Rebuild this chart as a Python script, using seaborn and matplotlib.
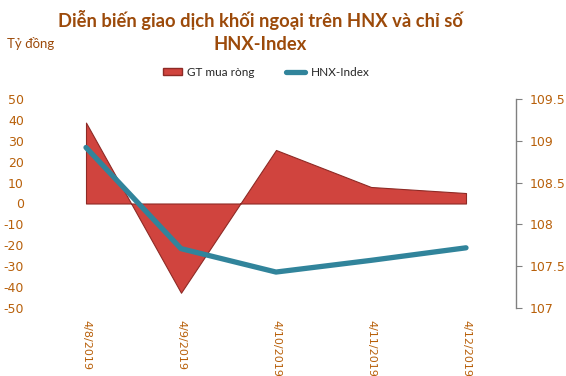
import matplotlib
matplotlib.use("Agg")
import matplotlib.pyplot as plt
import seaborn as sns
import pandas as pd
from matplotlib.patches import Patch
from matplotlib.lines import Line2D

# Du lieu doc tu bieu do
dates = ["4/8/2019", "4/9/2019", "4/10/2019", "4/11/2019", "4/12/2019"]
gt_mua_rong = [38.7, -42.7, 25.6, 7.9, 5.0]
hnx_index = [108.92, 107.71, 107.43, 107.57, 107.72]

title_color = "#9C4A0A"
tick_color = "#B8600A"
red = "#D0443E"
teal = "#31849B"

sns.set_style("white")
plt.rcParams["font.family"] = ["Lato", "DejaVu Sans"]

df = pd.DataFrame({"x": range(len(dates)), "gt": gt_mua_rong, "hnx": hnx_index})

fig = plt.figure(figsize=(5.66, 3.76), dpi=100)
ax = fig.add_axes([35 / 566, 1 - 308 / 376, (516 - 35) / 566, 209 / 376])

# Vung GT mua rong
ax.fill_between(df["x"], 0, df["gt"], color=red, edgecolor="#8E2A25", linewidth=0.8, zorder=2)
ax.set_ylim(-50, 50)
ax.set_yticks(range(-50, 51, 10))
ax.set_yticklabels([str(v) for v in range(-50, 51, 10)], family=["DejaVu Sans"])
ax.set_xlim(-51 / 95, 430 / 95)
ax.set_xticks(df["x"])
ax.set_xticklabels(dates, rotation=270, color=tick_color, fontsize=8, family=["DejaVu Sans"],
                   va="top", ha="center")
ax.tick_params(axis="x", length=0, pad=9)
ax.tick_params(axis="y", length=0, pad=8, labelsize=9, labelcolor=tick_color)
for s in ax.spines.values():
    s.set_visible(False)

# Duong HNX-Index
ax2 = ax.twinx()
sns.lineplot(data=df, x="x", y="hnx", ax=ax2, color=teal, linewidth=3.8, legend=False)
ax2.set_ylim(107, 109.5)
ax2.set_yticks([107, 107.5, 108, 108.5, 109, 109.5])
ax2.set_yticklabels(["107", "107.5", "108", "108.5", "109", "109.5"], family=["DejaVu Sans"])
ax2.set_ylabel("")
ax2.set_xlabel("")
ax.set_xlabel("")
ax2.tick_params(axis="y", length=4, color="#808080", pad=6, labelsize=9, labelcolor=tick_color, right=True)
for k, s in ax2.spines.items():
    s.set_visible(k == "right")
ax2.spines["right"].set_color("#808080")
ax2.spines["right"].set_linewidth(1.0)

fig.text(260 / 566, 1 - 20 / 376, "Diễn biến giao dịch khối ngoại trên HNX và chỉ số",
         ha="center", va="center", fontsize=13.2, fontweight="bold", color=title_color)
fig.text(260 / 566, 1 - 44 / 376, "HNX-Index",
         ha="center", va="center", fontsize=13.2, fontweight="bold", color=title_color)
fig.text(7 / 566, 1 - 44 / 376, "Tỷ đồng", ha="left", va="center", fontsize=9.5, color=title_color)

handles = [Patch(facecolor=red, edgecolor="#8E2A25"), Line2D([0], [0], color=teal, linewidth=3.8)]
fig.legend(handles, ["GT mua ròng", "HNX-Index"], loc="center", bbox_to_anchor=(266 / 566, 1 - 72 / 376),
           ncol=2, frameon=False, fontsize=8.5, handlelength=1.6, handleheight=0.6,
           handletextpad=0.5, columnspacing=2.6)

fig.savefig("out.png", dpi=100)
